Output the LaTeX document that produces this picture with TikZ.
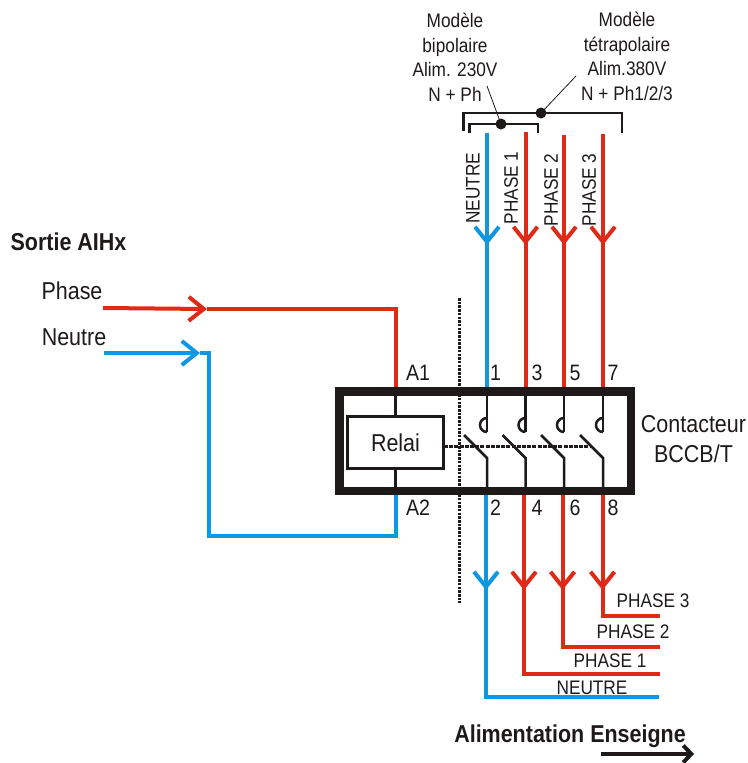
\documentclass[tikz,border=0pt]{standalone}
\usepackage{fontspec}
\setmainfont[FakeStretch=0.88]{Liberation Sans}
\usetikzlibrary{arrows.meta}
\definecolor{wirered}{HTML}{E02A18}
\definecolor{wireblue}{HTML}{1097E2}
\definecolor{inkblack}{HTML}{1E1A1A}
\tikzset{
	redwire/.style={color=wirered, line width=4pt},
	bluewire/.style={color=wireblue, line width=4pt},
	barb/.style={-{Straight Barb[length=15pt,width=24pt]}},
	thinwire/.style={color=inkblack, line width=2.5pt},
	label/.style={color=inkblack, font=\fontsize{19.6}{24.5}\selectfont, align=center, inner sep=0pt},
	biglabel/.style={color=inkblack, font=\fontsize{24.4}{30}\selectfont, align=center, inner sep=0pt},
	numlabel/.style={color=inkblack, font=\fontsize{22.3}{24}\selectfont, inner sep=0pt},
	boldlabel/.style={color=inkblack, font=\fontsize{24.4}{26}\selectfont\bfseries, inner sep=0pt}
}

\begin{document}
\begin{tikzpicture}[x=1pt,y=-1pt]
	\useasboundingbox (0,0) rectangle (747,763);
	
	% input side
	\node[boldlabel] (sortie) at (68.5,242) {Sortie AIHx};
	\node[biglabel] (phase) at (72,291) {Phase};
	\node[biglabel] (neutre) at (74,337) {Neutre};
	
	\coordinate (phasein) at (103,308);
	\coordinate (a1) at (395.5,387);
	\coordinate (neutrein) at (104,353);
	\coordinate (a2) at (395.5,495);
	
	\draw[redwire, barb] (phasein) -- (207,309);
	\draw[redwire, line join=miter] (207,309) -- (a1 |- 0,309) -- (a1);
	\draw[bluewire, barb] (neutrein) -- (200,353);
	\draw[bluewire, line join=miter] (200,353) -- (209,353) -- (209,536) -- (a2 |- 0,536) -- (a2);
	
	% top wires and poles
	\foreach \x/\ytop/\col in {487/133/bluewire,525.5/132/redwire,564/135/redwire,603/134/redwire}{
		\draw[\col, barb] (\x,\ytop) -- (\x,245);
		\draw[\col] (\x,240) -- (\x,388);
		\draw[thinwire] (\x,391) -- (\x,432);
		\draw[thinwire] (\x,418) arc[start angle=90,end angle=270,radius=7pt];
		\draw[thinwire] (\x-23,435) -- (\x,458) -- (\x,495);
	}
	
	% bottom wires
	\draw[bluewire, barb] (486,495) -- (486,590);
	\draw[bluewire, line join=miter] (486,585) -- (486,697) -- (659,697);
	\draw[redwire, barb] (524,495) -- (524,590);
	\draw[redwire, line join=miter] (524,585) -- (524,674) -- (660,674);
	\draw[redwire, barb] (562.5,495) -- (562.5,590);
	\draw[redwire, line join=miter] (562.5,585) -- (562.5,647) -- (660,647);
	\draw[redwire, barb] (602.5,495) -- (602.5,590);
	\draw[redwire, line join=miter] (602.5,585) -- (602.5,616) -- (660,616);
	
	% contactor
	\draw[color=inkblack, line width=8.5pt, line join=miter] (339.5,391.5) rectangle (631,491);
	\node[draw=inkblack, line width=2.6pt, minimum width=96pt, minimum height=52pt, inner sep=0pt, biglabel] (relai) at (395.5,442.5) {Relai};
	\draw[thinwire] (a1 |- 0,391) -- (relai.north);
	\draw[thinwire] (relai.south) -- (a2 |- 0,491);
	
	\coordinate (linkend) at (590,446);
	\draw[thinwire, line width=3pt, dash pattern=on 4pt off 1.2pt] (444,446) -- (linkend);
	\draw[color=inkblack, line width=3pt, dash pattern=on 2.5pt off 1.2pt] (459.5,298) -- (459.5,603);
	
	\node[numlabel] (labela1) at (418,373) {A1};
	\node[numlabel] (labela2) at (418,508) {A2};
	\foreach \x/\n/\m in {495.5/1/2,537/3/4,575/5/6,613/7/8}{
		\node[numlabel] (num\n) at (\x,373) {\n};
		\node[numlabel] (num\m) at (\x,508) {\m};
	}
	
	\node[biglabel] (contacteur) at (693.5,439) {Contacteur\\BCCB/T};
	
	% rotated names
	\node[label, rotate=90] (nameneutre) at (473,188) {NEUTRE};
	\node[label, rotate=90] (namephasea) at (511,188) {PHASE 1};
	\node[label, rotate=90] (namephaseb) at (551,190) {PHASE 2};
	\node[label, rotate=90] (namephasec) at (589,190) {PHASE 3};
	
	% models
	\node[label] (bipolaire) at (455,57.5) {Modèle\\bipolaire\\Alim. 230V\\N + Ph};
	\node[label] (tetrapolaire) at (627,56.5) {Modèle\\tétrapolaire\\Alim.380V\\N + Ph1/2/3};
	
	\draw[thinwire, line join=miter] (463.5,131) -- (463.5,113) -- (622,113) -- (622,133);
	\draw[thinwire, line join=miter] (469.5,133) -- (469.5,124) -- (538,124) -- (538,133);
	\fill[color=inkblack] (541,113) circle (5.5pt) coordinate (doubledot);
	\fill[color=inkblack] (501,124) circle (5.5pt) coordinate (singledot);
	\draw[color=inkblack, line width=0.8pt] (487,86) -- (singledot);
	\draw[color=inkblack, line width=0.8pt] (576,76) -- (doubledot);
	
	% output names
	\node[label] (outc) at (653,601) {PHASE 3};
	\node[label] (outb) at (633,632) {PHASE 2};
	\node[label] (outa) at (610,661) {PHASE 1};
	\node[label] (outn) at (592,688) {NEUTRE};
	
	\node[boldlabel] (alim) at (570,736) {Alimentation Enseigne};
	\coordinate (alimstart) at (601,754);
	\coordinate (alimend) at (694,754);
	\draw[color=inkblack, line width=4pt, -{Straight Barb[length=8pt,width=17pt]}] (alimstart) -- (alimend);
\end{tikzpicture}
\end{document}
